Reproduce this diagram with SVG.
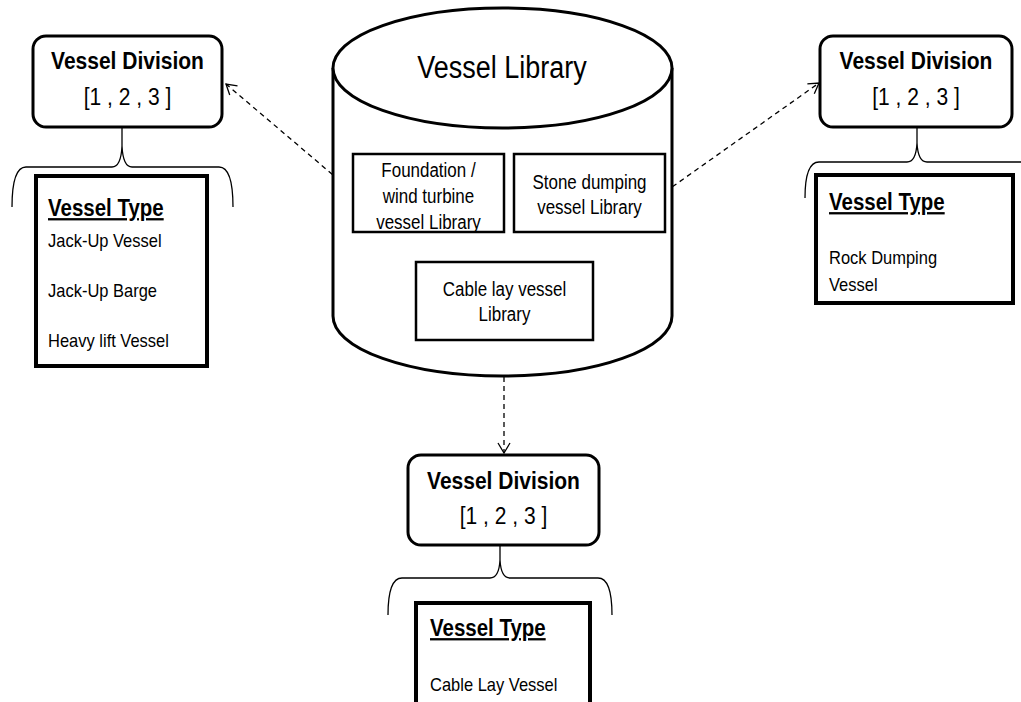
<svg xmlns="http://www.w3.org/2000/svg" width="1021" height="702" viewBox="0 0 1021 702">
<style>
text{font-family:"Liberation Sans",Arial,sans-serif;fill:#000}
.div{fill:#fff;stroke:#000;stroke-width:3}
.vt{fill:#fff;stroke:#000;stroke-width:4}
.lib{fill:#fff;stroke:#000;stroke-width:2.5}
.brace{fill:none;stroke:#000;stroke-width:1.3}
.conn{fill:none;stroke:#000;stroke-width:1.3;stroke-dasharray:5 4}
.h{font-size:24px;font-weight:bold;text-anchor:middle}
.n{font-size:24px;text-anchor:middle}
.th{font-size:23px;font-weight:bold;text-decoration:underline}
.it{font-size:19px}
.lt{font-size:19.5px;text-anchor:middle}
</style>
<defs>
<marker id="arr" markerUnits="userSpaceOnUse" markerWidth="16" markerHeight="16" refX="12" refY="8" orient="auto">
<path d="M2,2 L12,8 L2,14" fill="none" stroke="#000" stroke-width="1.3"/>
</marker>
</defs>
<g id="connectors">
<line class="conn" x1="353" y1="192" x2="226" y2="84" marker-end="url(#arr)"/>
<line class="conn" x1="665" y1="192" x2="819" y2="83" marker-end="url(#arr)"/>
<line class="conn" x1="504" y1="341" x2="504" y2="453" marker-end="url(#arr)"/>
</g>
<g id="library">
<path d="M333,68 L333,316 A169.5,60 0 0 0 672,316 L672,68" fill="#fff" stroke="#000" stroke-width="3"/>
<ellipse cx="502.5" cy="68" rx="169.5" ry="60" fill="#fff" stroke="#000" stroke-width="3"/>
<text transform="translate(502,78) scale(0.87,1)" style="font-size:31px;text-anchor:middle">Vessel Library</text>
</g>
<g id="foundation-lib">
<rect class="lib" x="353" y="154" width="151" height="78"/>
<text class="lt" transform="translate(428.5,177) scale(0.87,1)">Foundation /</text>
<text class="lt" transform="translate(428.5,203) scale(0.87,1)">wind turbine</text>
<text class="lt" transform="translate(428.5,229) scale(0.87,1)">vessel Library</text>
</g>
<g id="stone-lib">
<rect class="lib" x="514" y="154" width="151" height="78"/>
<text class="lt" transform="translate(589.5,189) scale(0.87,1)">Stone dumping</text>
<text class="lt" transform="translate(589.5,214) scale(0.87,1)">vessel Library</text>
</g>
<g id="cable-lib">
<rect class="lib" x="416" y="262" width="177" height="78"/>
<text class="lt" transform="translate(504.5,296) scale(0.87,1)">Cable lay vessel</text>
<text class="lt" transform="translate(504.5,321) scale(0.87,1)">Library</text>
</g>
<g id="div-left">
<rect class="div" x="33" y="36" width="189" height="91" rx="13"/>
<text class="h" transform="translate(127.5,69) scale(0.875,1)">Vessel Division</text>
<text class="n" transform="translate(127.5,105) scale(0.875,1)">[1 , 2 , 3 ]</text>
</g>
<path class="brace" d="M12,207 Q12,167 26,167 L112,167 Q121,167 122,146 L122,127 M122,146 Q123,167 132,167 L219,167 Q233,167 233,207"/>
<g id="type-left">
<rect class="vt" x="36" y="176" width="171" height="190"/>
<text class="th" transform="translate(48,216) scale(0.89,1)">Vessel Type</text>
<text class="it" transform="translate(48,247) scale(0.868,1)">Jack-Up Vessel</text>
<text class="it" transform="translate(48,297) scale(0.868,1)">Jack-Up Barge</text>
<text class="it" transform="translate(48,347) scale(0.868,1)">Heavy lift Vessel</text>
</g>
<g id="div-right">
<rect class="div" x="820" y="36" width="192" height="91" rx="13"/>
<text class="h" transform="translate(916,69) scale(0.875,1)">Vessel Division</text>
<text class="n" transform="translate(916,105) scale(0.875,1)">[1 , 2 , 3 ]</text>
</g>
<path class="brace" d="M805,198 Q805,162 819,162 L907,162 Q916,162 917,143 L917,127 M917,143 Q918,162 927,162 L1021,162"/>
<g id="type-right">
<rect class="vt" x="816" y="175" width="197" height="128"/>
<text class="th" transform="translate(829,210) scale(0.89,1)">Vessel Type</text>
<text class="it" transform="translate(829,264) scale(0.868,1)">Rock Dumping</text>
<text class="it" transform="translate(829,291) scale(0.868,1)">Vessel</text>
</g>
<g id="div-bottom">
<rect class="div" x="408" y="455" width="191" height="90" rx="13"/>
<text class="h" transform="translate(503.5,489) scale(0.875,1)">Vessel Division</text>
<text class="n" transform="translate(503.5,524) scale(0.875,1)">[1 , 2 , 3 ]</text>
</g>
<path class="brace" d="M388,615 Q388,578 402,578 L490,578 Q499,578 500,560 L500,545 M500,560 Q501,578 510,578 L598,578 Q612,578 612,615"/>
<g id="type-bottom">
<rect class="vt" x="416" y="603" width="174" height="104"/>
<text class="th" transform="translate(430,636) scale(0.89,1)">Vessel Type</text>
<text class="it" transform="translate(430,691) scale(0.868,1)">Cable Lay Vessel</text>
</g>
</svg>
